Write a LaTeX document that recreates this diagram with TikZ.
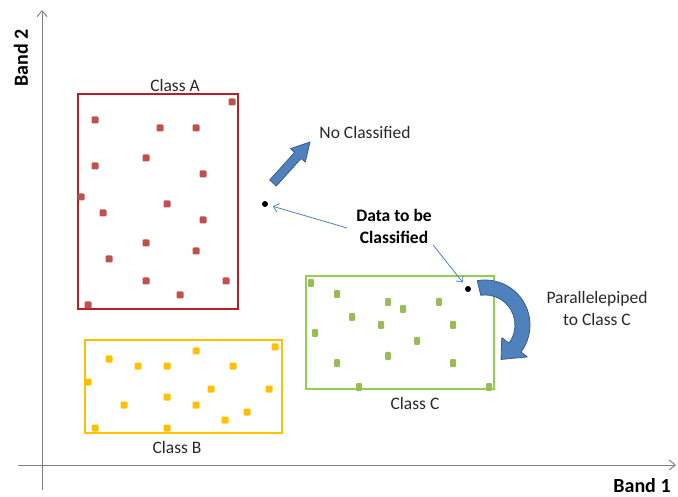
\documentclass[tikz,border=0pt]{standalone}
\usepackage{fontspec}
\setmainfont{Carlito}
\usetikzlibrary{arrows.meta,calc}
\definecolor{redbox}{RGB}{190,28,36}
\definecolor{redpt}{RGB}{192,80,77}
\definecolor{goldbox}{RGB}{255,192,0}
\definecolor{goldpt}{RGB}{255,192,0}
\definecolor{greenbox}{RGB}{146,208,80}
\definecolor{greenpt}{RGB}{155,187,89}
\definecolor{axisgray}{RGB}{128,128,128}
\definecolor{pointer}{RGB}{79,129,189}
\definecolor{bigfill}{RGB}{79,129,189}
\definecolor{bigedge}{RGB}{56,93,138}
\definecolor{txt}{RGB}{40,40,40}
\begin{document}
\begin{tikzpicture}[x=1pt,y=-1pt,
  axisline/.style={draw=axisgray, line width=0.9, -{Straight Barb[length=6,width=10]}},
  classbox/.style={draw, line width=2.4, inner sep=0, fill=none},
  lbl/.style={inner sep=0, text=txt, font=\fontsize{17.5}{22}\selectfont, align=center},
  bandlbl/.style={inner sep=0, text=black, font=\fontsize{20}{24}\selectfont\bfseries},
  dot/.style={circle, fill=black, inner sep=0, minimum size=6},
  pointerline/.style={draw=pointer, line width=0.8, -{Straight Barb[length=5,width=9]}},
  bigarrow/.style={fill=bigfill, draw=bigedge, line width=0.8, line join=round},
  ptsq/.style={rounded corners=1.2}
]
\useasboundingbox (0,0) rectangle (678,497);

% axes
\coordinate (ybot) at (42,490);
\coordinate (ytop) at (42,10);
\coordinate (xleft) at (18,465);
\coordinate (xright) at (676,465);
\draw[axisline] (ybot) -- (ytop);
\draw[axisline] (xleft) -- (xright);
\node[bandlbl, rotate=90] (band2) at (21,58) {Band 2};
\node[bandlbl] (band1) at (642,486) {Band 1};

% class rectangles
\node[classbox, draw=redbox, minimum width=160, minimum height=215] (boxA) at (158,201.5) {};
\node[classbox, draw=goldbox, minimum width=197, minimum height=93] (boxB) at (183.5,386.5) {};
\node[classbox, draw=greenbox, minimum width=188, minimum height=113] (boxC) at (400,332.5) {};

\node[lbl] (classA) at (175,85) {Class A};
\node[lbl] (classB) at (177,447) {Class B};
\node[lbl] (classC) at (415,403) {Class C};

% class A samples
\foreach \px/\py in {232/102, 95/120, 160/128, 196/128, 146/158, 95/166, 203/174,
    81/197, 167/204, 103/213, 203/220, 146/243, 196/251, 109/259, 146/281,
    226/281, 180/295, 88/305}
  \fill[redpt, ptsq] (\px-3.5,\py-3.5) rectangle (\px+3.5,\py+3.5);

% class B samples
\foreach \px/\py in {275/347, 196/351, 109/359, 138/366, 167/366, 233/366, 88/382,
    211/389, 269/389, 124/405, 167/397, 196/405, 247/412, 225/420, 95/428, 167/428}
  \fill[goldpt, ptsq] (\px-3.5,\py-3.5) rectangle (\px+3.5,\py+3.5);

% class C samples
\foreach \px/\py in {311/283, 337/294, 388/302, 439/302, 403/309, 352/317, 381/325,
    453/325, 315/333, 417/341, 388/356, 337/363, 453/363, 359/387, 489/387}
  \fill[greenpt, ptsq] (\px-3,\py-4) rectangle (\px+3,\py+4);

% unknown pixels
\node[dot] (dot1) at (265,204) {};
\node[dot] (dot2) at (468,289) {};

\node[lbl] (nocl) at (365,132) {No Classified};
\node[lbl, font=\fontsize{17.5}{22}\selectfont\bfseries, text=black] (data) at (394,226) {Data to be\\Classified};
\node[lbl] (para) at (597,308) {Parallelepiped\\to Class C};

\draw[pointerline, shorten >=5] ([xshift=-9,yshift=-2]data.west) -- (dot1);
\draw[pointerline, shorten >=5, shorten <=2] (data.south east) -- (dot2);

% block arrow pointing away from the classes
\draw[bigarrow] (276.3,186.0) -- (301.2,158.4) -- (305.3,162.1) -- (310,142)
  -- (290.5,148.7) -- (294.6,152.4) -- (269.7,180.0) -- cycle;

% curved block arrow into class C
\coordinate (cc) at (485,325);
\draw[bigarrow] ($(cc)+(260:45)$) arc[start angle=260, end angle=397, radius=45]
  -- ($(cc)+(397:53)$) -- ($(cc)+(425:38)$) -- ($(cc)+(397:21)$)
  -- ($(cc)+(397:30)$) arc[start angle=397, end angle=262, radius=30] -- cycle;
\end{tikzpicture}
\end{document}
